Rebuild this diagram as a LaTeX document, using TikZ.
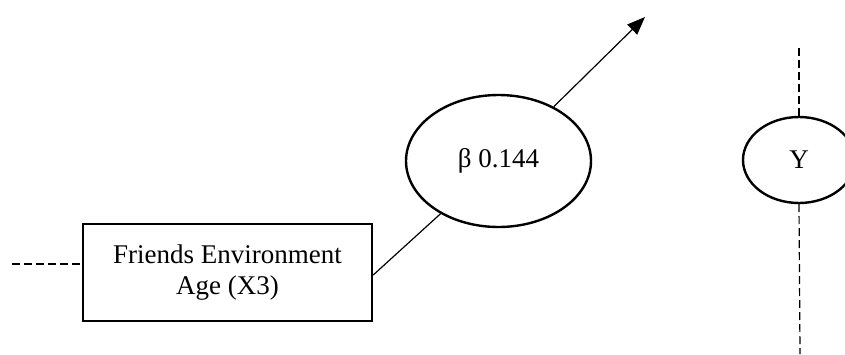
\documentclass[tikz,border=0pt]{standalone}
\usepackage{fontspec}
\setmainfont{Liberation Serif}
\usetikzlibrary{shapes.geometric,arrows.meta}
\begin{document}
\begin{tikzpicture}[x=1pt,y=-1pt,
  boxnode/.style={draw,line width=2.4pt,minimum width=289pt,minimum height=97pt,inner sep=0pt,align=center,font=\fontsize{27}{31.3}\selectfont},
  ellnode/.style={draw,ellipse,line width=2.4pt,fill=white,inner sep=0pt,font=\fontsize{27}{31}\selectfont},
  dashline/.style={line width=1.2pt,dash pattern=on 8pt off 4pt},
  conn/.style={line width=1.2pt}
]
\useasboundingbox (0,0) rectangle (845,354);
\begin{scope}
\clip (0,0) rectangle (845,354);
\node[boxnode] (box) at (227.5,272.5) {Friends Environment\\Age (X3)};
\node[ellnode,minimum width=185pt,minimum height=132pt] (beta) at (498.5,161) {β 0.144};
\node[ellnode,minimum width=112pt,minimum height=86pt] (y) at (799,160) {Y};
\coordinate (s) at (box.east |- 0,275);
\coordinate (tip) at (645,17);
\coordinate (dl) at (12,264);
\coordinate (yt) at (799,48);
\coordinate (yb) at (800,354);
\draw[conn] (s) -- (beta);
\draw[conn,-{Triangle[length=18pt,width=14pt]}] (beta) -- (tip);
\draw[dashline] (dl) -- (box.west |- dl);
\draw[dashline] (yt) -- (y.north);
\draw[dashline] (y.south) -- (yb);
\end{scope}
\end{tikzpicture}
\end{document}
